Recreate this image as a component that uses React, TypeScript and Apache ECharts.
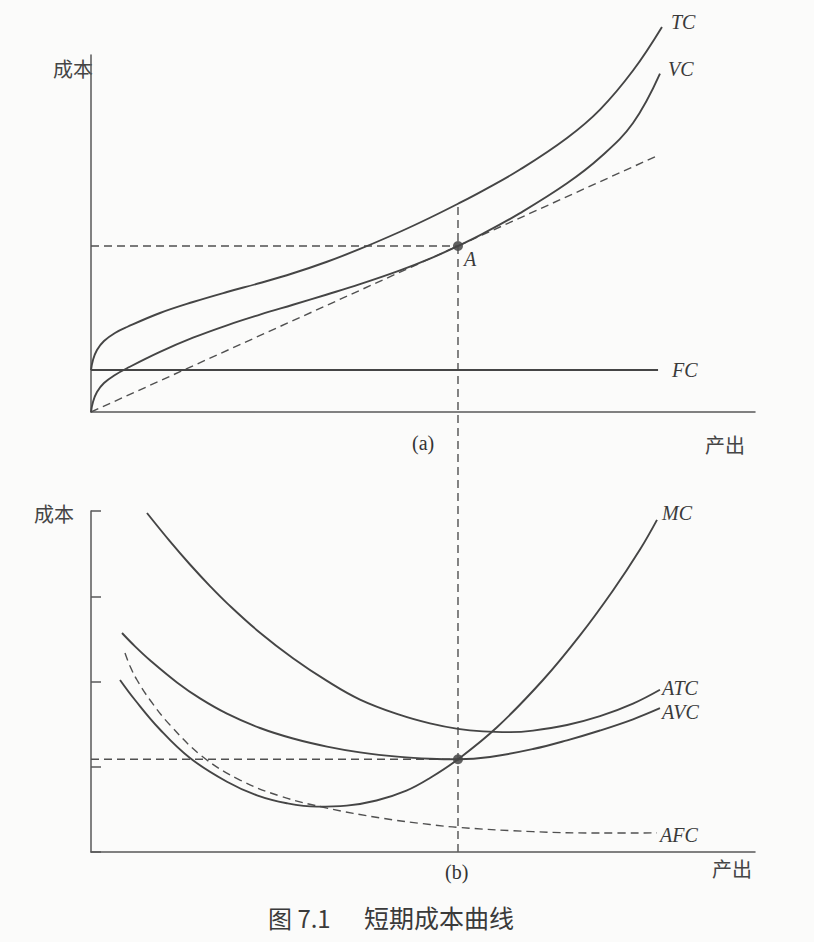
import React, { useEffect, useRef } from "react";
import * as echarts from "echarts";

// ---- Panel (a): total cost curves (x: output, y: cost; arbitrary units 0-100)
const tcCurve: [number, number][] = [
  [0, 11.76], [0.3, 14.57], [0.9, 17.37], [1.96, 19.89], [3.61, 22.13], [5.42, 23.81],
  [10.39, 27.73], [15.36, 30.81], [20.48, 33.61], [25.45, 36.13], [30.42, 38.86],
  [35.54, 42.09], [40.51, 45.67], [46.54, 50.49], [51.05, 54.41], [55.27, 58.33],
  [59.04, 62.02], [64.61, 67.92], [71.69, 76.77], [76.66, 84.72], [81.63, 95.65],
  [85.99, 107.86],
];
const vcCurve: [number, number][] = [
  [0, 0], [0.3, 2.8], [0.9, 5.6], [1.96, 8.12], [3.61, 10.36], [5.42, 12.26],
  [10.39, 16.83], [15.36, 20.81], [20.48, 24.29], [25.45, 27.27], [30.42, 30.05],
  [35.54, 32.92], [40.51, 35.8], [46.54, 39.66], [51.05, 42.95], [55.27, 46.5],
  [59.04, 49.97], [64.61, 55.71], [71.69, 64.06], [76.66, 71.27], [81.63, 80.96],
  [85.69, 94.76],
];
const fcLine: [number, number][] = [[0, 11.76], [85.4, 11.76]];
const rayLine: [number, number][] = [[0, 0], [85.2, 71.7]];
const pointA: [number, number] = [55.27, 46.5];
const qStar = 55.27;
const vTopA = 57.4;
const vBottomA = -123.2;

// ---- Panel (b): average and marginal cost curves
const atcCurve: [number, number][] = [
  [8.43, 99.41], [11.9, 91.08], [14.91, 84.31], [17.92, 77.99], [20.48, 73.0],
  [25.45, 64.3], [30.42, 56.84], [35.54, 50.18], [40.51, 44.71], [46.54, 40.19],
  [51.05, 37.71], [55.27, 36.11], [59.04, 35.36], [63.1, 35.16], [66.57, 35.61],
  [71.69, 37.25], [76.66, 39.83], [81.63, 43.51], [85.69, 47.57],
];
const avcCurve: [number, number][] = [
  [4.67, 64.22], [6.63, 60.3], [8.89, 56.23], [12.95, 49.73], [16.42, 45.05],
  [20.48, 40.58], [25.45, 36.36], [30.42, 33.28], [35.54, 30.92], [40.51, 29.23],
  [46.54, 27.9], [51.05, 27.36], [55.27, 27.19], [60.09, 27.86], [66.57, 30.19],
  [71.69, 32.75], [76.66, 35.63], [81.63, 38.91], [85.69, 42.16],
];
const mcCurve: [number, number][] = [
  [4.37, 50.45], [6.63, 44.57], [10.39, 35.92], [14.91, 27.56], [20.48, 20.6],
  [25.0, 16.6], [29.5, 14.3], [34.0, 13.3], [38.5, 13.6], [43.0, 15.1],
  [47.5, 18.0], [51.05, 21.7], [55.27, 27.19], [61.14, 36.58], [68.07, 50.44],
  [73.64, 63.53], [78.61, 76.7], [82.68, 88.71], [85.24, 97.41],
];
const afcCurve: [number, number][] = [
  [5.12, 58.36], [5.87, 54.55], [6.93, 50.44], [8.89, 44.57], [11.9, 37.24],
  [16.87, 27.86], [22.44, 21.11], [28.46, 16.42], [35.54, 12.88], [43.52, 10.01],
  [51.05, 8.05], [55.27, 7.21], [66.57, 5.97], [76.66, 5.57], [85.24, 5.6],
];
const pointB: [number, number] = [55.27, 27.19];

const curveLabels = {
  tc: "TC", vc: "VC", fc: "FC", a: "A",
  mc: "MC", atc: "ATC", avc: "AVC", afc: "AFC",
};
const axisTexts = { cost: "成本", output: "产出", panelA: "(a)", panelB: "(b)" };
const figureNumber = "图 7.1";
const figureTitle = "短期成本曲线";

const INK = "#454545";
const AXIS = "#585858";
const DASH: number[] = [8, 5];

export default function App() {
  const ref = useRef<HTMLDivElement>(null);
  useEffect(() => {
    if (!ref.current) return;
    const chart = echarts.init(ref.current, null, { renderer: "svg" });

    const solid = (data: [number, number][], gi: number, smooth = 0.4) => ({
      type: "line",
      data,
      xAxisIndex: gi,
      yAxisIndex: gi,
      showSymbol: false,
      symbol: "none",
      smooth,
      clip: false,
      silent: true,
      lineStyle: { color: INK, width: 1.9 },
    });
    const dashed = (data: [number, number][], gi: number, smooth: number = 0) => ({
      type: "line",
      data,
      xAxisIndex: gi,
      yAxisIndex: gi,
      showSymbol: false,
      symbol: "none",
      smooth,
      clip: false,
      silent: true,
      lineStyle: { color: "#505050", width: 1.4, type: DASH },
    });

    const xAxisBase = {
      type: "value",
      min: 0,
      max: 100,
      axisLine: { show: true, lineStyle: { color: AXIS, width: 1.5 } },
      axisTick: { show: false },
      axisLabel: { show: false },
      splitLine: { show: false },
    };

    const italic = (text: string, x: number, y: number) => ({
      type: "text",
      x,
      y,
      silent: true,
      style: {
        text,
        fill: "#3a3a3a",
        font: "italic 20px 'Liberation Serif', 'DejaVu Serif', serif",
        textAlign: "left",
        textVerticalAlign: "middle",
      },
    });
    const plain = (text: string, x: number, y: number, size = 20, family = "'Noto Sans CJK SC', sans-serif", fill = "#454545") => ({
      type: "text",
      x,
      y,
      silent: true,
      style: {
        text,
        fill,
        font: `${size}px ${family}`,
        textAlign: "left",
        textVerticalAlign: "middle",
      },
    });

    chart.setOption({
      animation: false,
      backgroundColor: "#fbfbfa",
      grid: [
        { left: 91, top: 55, width: 664, height: 357 },
        { left: 91, top: 511, width: 664, height: 341 },
      ],
      xAxis: [
        { ...xAxisBase, gridIndex: 0 },
        { ...xAxisBase, gridIndex: 1 },
      ],
      yAxis: [
        {
          type: "value", gridIndex: 0, min: 0, max: 100,
          axisLine: { show: true, lineStyle: { color: AXIS, width: 1.5 } },
          axisTick: { show: false }, axisLabel: { show: false }, splitLine: { show: false },
        },
        {
          type: "value", gridIndex: 1, min: 0, max: 100, interval: 25,
          axisLine: { show: true, lineStyle: { color: AXIS, width: 1.5 } },
          axisTick: { show: true, inside: true, length: 10, lineStyle: { color: AXIS, width: 1.5 } },
          axisLabel: { show: false }, splitLine: { show: false },
        },
      ],
      series: [
        // panel (a)
        dashed([[0, pointA[1]], pointA], 0),
        dashed([[qStar, vTopA], [qStar, vBottomA]], 0),
        dashed(rayLine, 0),
        solid(fcLine, 0, 0),
        solid(tcCurve, 0),
        solid(vcCurve, 0),
        {
          type: "scatter", xAxisIndex: 0, yAxisIndex: 0, data: [pointA],
          symbolSize: 10, itemStyle: { color: "#3a3a3a" }, silent: true,
        },
        // panel (b)
        dashed([[0, pointB[1]], pointB], 1),
        dashed(afcCurve, 1, 0.4),
        solid(atcCurve, 1),
        solid(avcCurve, 1),
        solid(mcCurve, 1),
        {
          type: "scatter", xAxisIndex: 1, yAxisIndex: 1, data: [pointB],
          symbolSize: 10, itemStyle: { color: "#3a3a3a" }, silent: true,
        },
      ],
      graphic: [
        // panel (a) labels
        plain(axisTexts.cost, 53, 68),
        italic(curveLabels.tc, 671, 22),
        italic(curveLabels.vc, 668, 69),
        italic(curveLabels.a, 464, 259),
        italic(curveLabels.fc, 672, 370),
        plain(axisTexts.panelA, 412, 443, 20, "'Liberation Serif', serif", "#333"),
        plain(axisTexts.output, 705, 444),
        // panel (b) labels
        plain(axisTexts.cost, 34, 513),
        italic(curveLabels.mc, 662, 513),
        italic(curveLabels.atc, 662, 688),
        italic(curveLabels.avc, 662, 712),
        italic(curveLabels.afc, 660, 835),
        plain(axisTexts.panelB, 445, 872, 20, "'Liberation Serif', serif", "#333"),
        plain(axisTexts.output, 712, 868),
        // figure title
        plain(figureNumber, 268, 917, 24, "'Noto Sans CJK SC', sans-serif", "#3a3a3a"),
        plain(figureTitle, 364, 917, 25, "'Noto Sans CJK SC', sans-serif", "#3a3a3a"),
      ],
    });
    return () => chart.dispose();
  }, []);
  return (
    <div
      ref={ref}
      style={{ position: "fixed", left: 0, top: 0, width: 814, height: 942 }}
    />
  );
}
